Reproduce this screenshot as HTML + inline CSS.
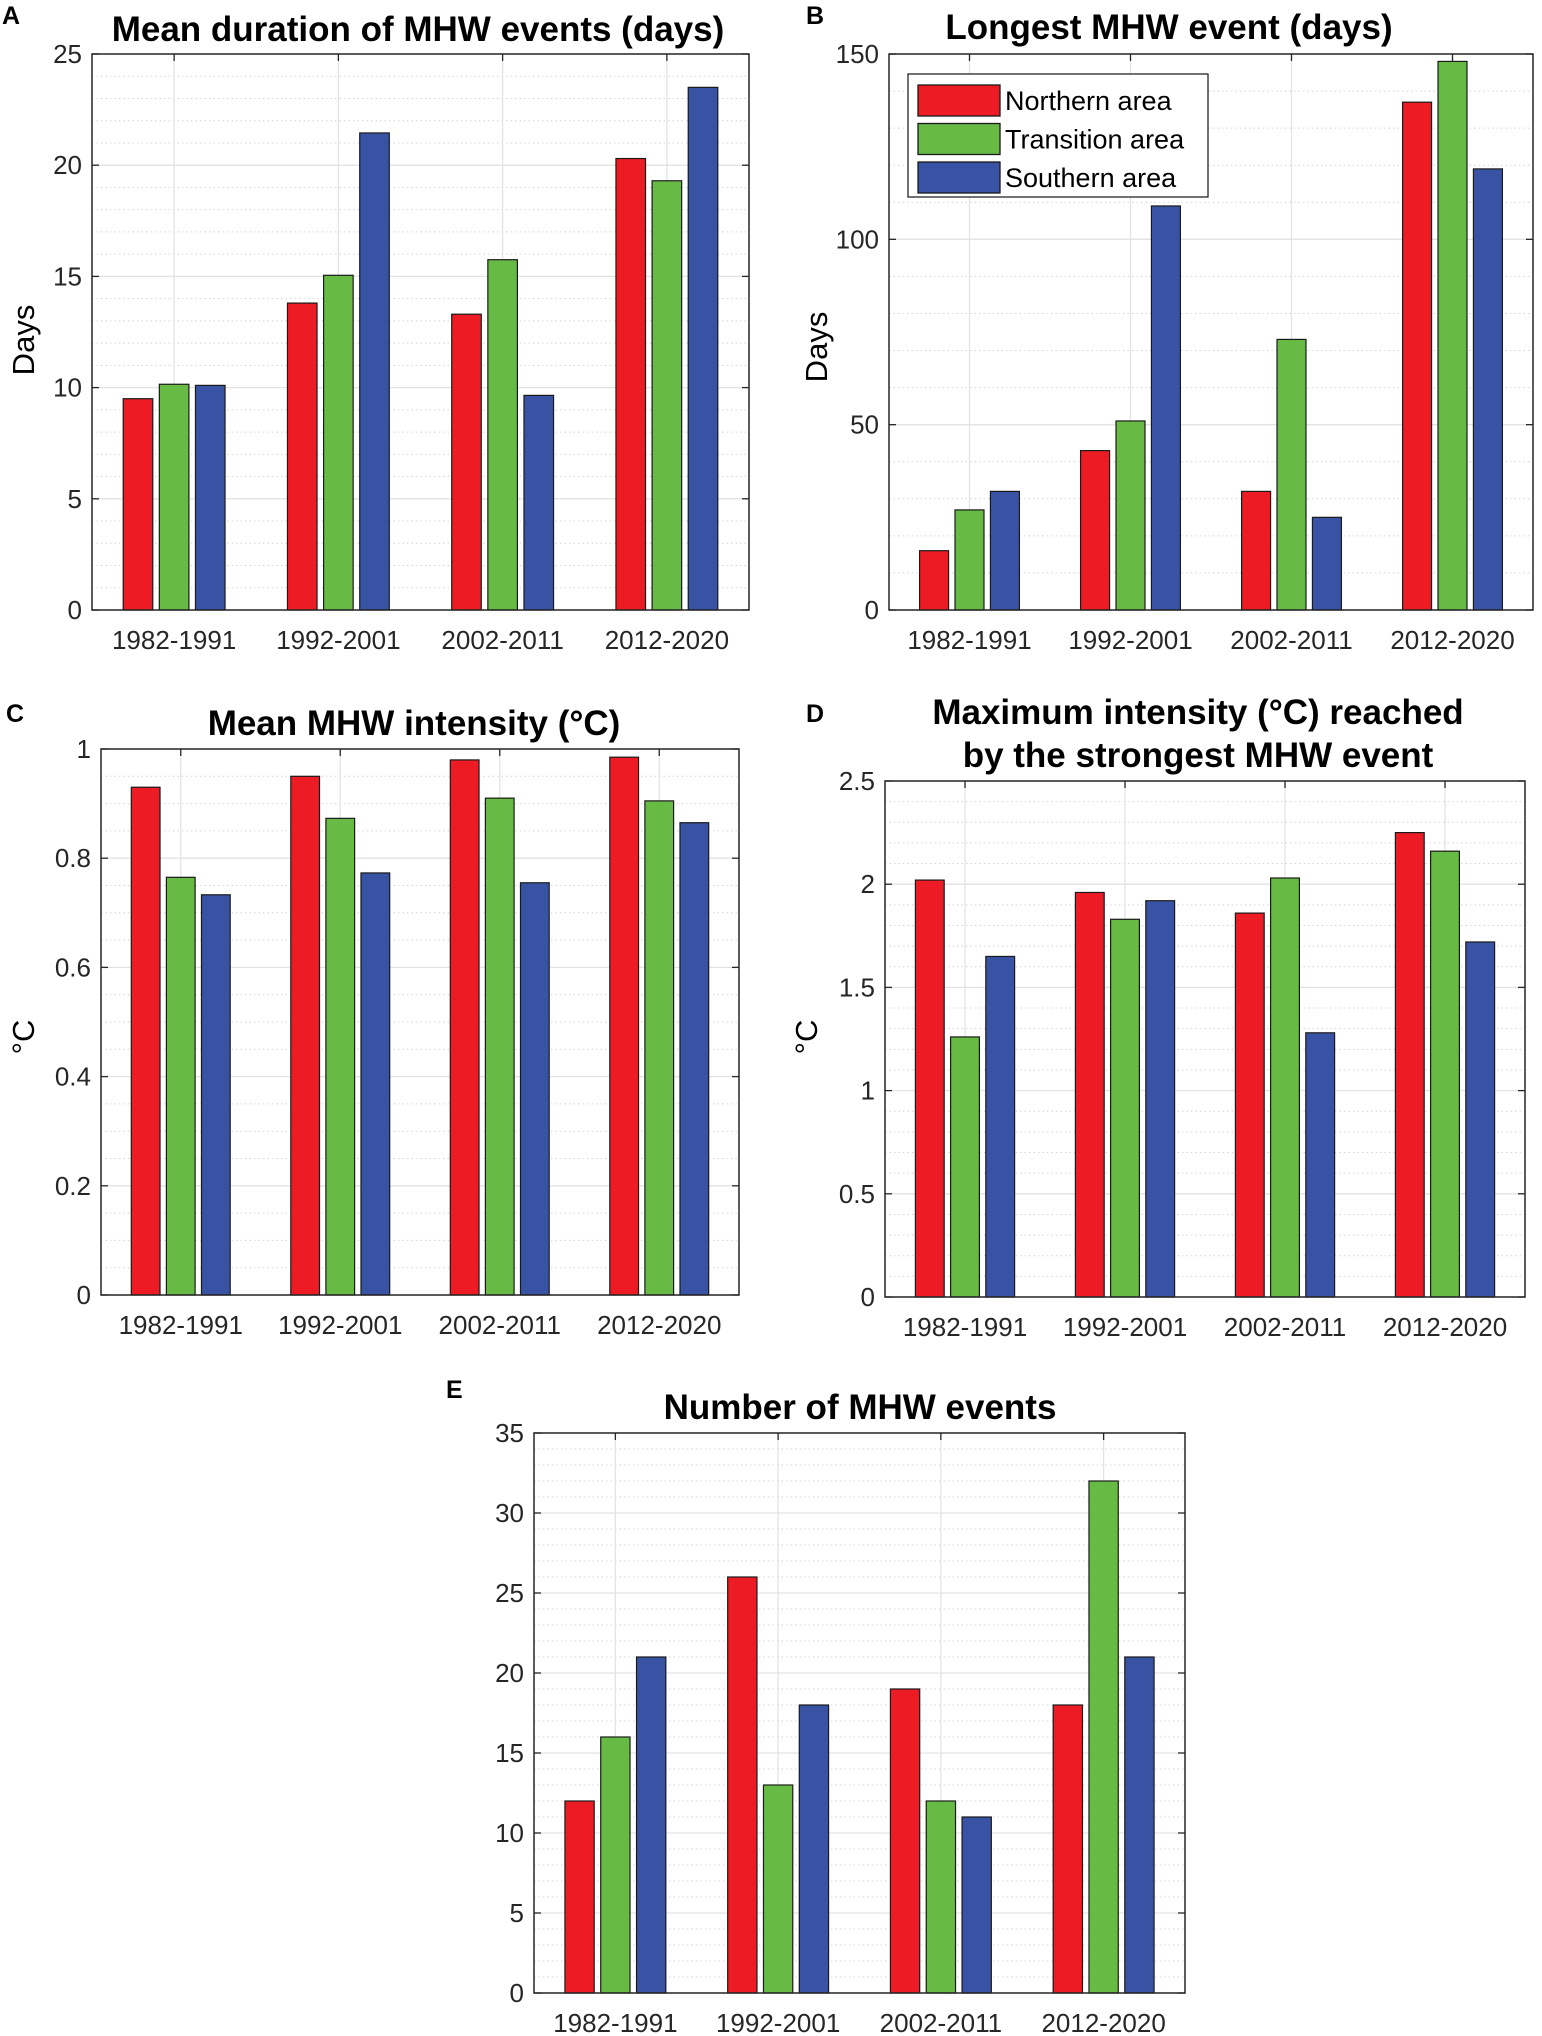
<!DOCTYPE html>
<html><head><meta charset="utf-8"><style>
html,body{margin:0;padding:0;background:#fff;}
svg{display:block;font-family:"Liberation Sans",sans-serif;}
.t{font-weight:bold;font-size:35px;fill:#000;}
.tk{font-size:26px;fill:#262626;}
.lt{font-weight:bold;font-size:25px;fill:#000;}
</style></head><body>
<svg id="fig" width="1542" height="2036" viewBox="0 0 1542 2036" xmlns="http://www.w3.org/2000/svg"></svg>
<script>
const categories = ["1982-1991","1992-2001","2002-2011","2012-2020"];
const seriesNames = ["Northern area","Transition area","Southern area"];
const colors = ["#ed1c24","#67bb45","#3953a4"];

const durNorth = [9.5,13.8,13.3,20.3];
const durTrans = [10.15,15.05,15.75,19.3];
const durSouth = [10.1,21.45,9.65,23.5];
const durTicks = [0,5,10,15,20,25];

const longNorth = [16,43,32,137];
const longTrans = [27,51,73,148];
const longSouth = [32,109,25,119];
const longTicks = [0,50,100,150];

const meanIntNorth = [0.93,0.95,0.98,0.985];
const meanIntTrans = [0.765,0.873,0.91,0.905];
const meanIntSouth = [0.733,0.773,0.755,0.865];
const meanIntTicks = [0,0.2,0.4,0.6,0.8,1];

const maxIntNorth = [2.02,1.96,1.86,2.25];
const maxIntTrans = [1.26,1.83,2.03,2.16];
const maxIntSouth = [1.65,1.92,1.28,1.72];
const maxIntTicks = [0,0.5,1,1.5,2,2.5];

const countNorth = [12,26,19,18];
const countTrans = [16,13,12,32];
const countSouth = [21,18,11,21];
const countTicks = [0,5,10,15,20,25,30,35];

const NS="http://www.w3.org/2000/svg";
const fig=document.getElementById('fig');
function mk(tag,attrs,parent,text){const e=document.createElementNS(NS,tag);for(const k in attrs)e.setAttribute(k,attrs[k]);if(text!==undefined)e.textContent=text;(parent||fig).appendChild(e);return e;}

function chart(cfg){
  const g=mk('g',{});
  
  
  const L=cfg.l,R=cfg.r,T=cfg.t,B=cfg.b;
  const ymax=cfg.ticks[cfg.ticks.length-1];
  const y=v=>B-(v/ymax)*(B-T);
  const cw=(R-L)/categories.length;
  const x=i=>L+cw*(i+0.5);
  for(let v=cfg.minor;v<ymax-1e-9;v+=cfg.minor){
    if(cfg.ticks.some(t=>Math.abs(t-v)<1e-9))continue;
    const ln=mk('line',{x1:L,x2:R,y1:y(v),y2:y(v),stroke:'#d4d4d4','stroke-width':1,'stroke-dasharray':'1.5,3'},g);
    
    
  }
  cfg.ticks.forEach(v=>{
    const ln=mk('line',{x1:L,x2:R,y1:y(v),y2:y(v),stroke:'#e3e3e3','stroke-width':1.3},g);
    
    
    mk('line',{x1:L,x2:L+7,y1:y(v),y2:y(v),stroke:'#262626','stroke-width':1.3},g);
    mk('line',{x1:R-7,x2:R,y1:y(v),y2:y(v),stroke:'#262626','stroke-width':1.3},g);
    const tx=mk('text',{x:L-10,y:y(v)+9,'text-anchor':'end',class:'tk'},g,String(v));
    
    
  });
  categories.forEach((c,i)=>{
    const ln=mk('line',{x1:x(i),x2:x(i),y1:T,y2:B,stroke:'#e3e3e3','stroke-width':1.3},g);
    
    
    mk('line',{x1:x(i),x2:x(i),y1:T,y2:T+7,stroke:'#262626','stroke-width':1.3},g);
  });
  cfg.series.forEach((s,si)=>{
    s.forEach((v,i)=>{
      const cx=x(i)+(si-1)*0.22*cw, bw=0.18*cw;
      const r=mk('rect',{x:cx-bw/2,y:y(v),width:bw,height:B-y(v),fill:colors[si],stroke:'#1a1a1a','stroke-width':1.2},g);
      
      
    });
  });
  categories.forEach((c,i)=>{
    const tx=mk('text',{x:x(i),y:B+39,'text-anchor':'middle',class:'tk'},g,c);
    
    
  });
  const ax=mk('rect',{x:L,y:T,width:R-L,height:B-T,fill:'none',stroke:'#262626','stroke-width':1.5},g);
  
  
  cfg.title.forEach((tl,k)=>{
    const tx=mk('text',{x:cfg.tx,y:cfg.ty+k*43,'text-anchor':'middle',class:'t'},g,tl);
    
    
  });
  const lt=mk('text',{x:cfg.lx,y:cfg.ly,class:'lt'},g,cfg.letter);
  
  
  if(cfg.ylabel){
    const yl=mk('text',{x:0,y:0,'text-anchor':'middle',transform:`translate(${cfg.yx},${cfg.yy}) rotate(-90)`,style:'font-size:31px;fill:#000'},g,cfg.ylabel);
    
    
  }
  return g;
}

chart({name:'chart-mean-duration',l:92,r:749,t:54,b:610,ticks:durTicks,minor:1,series:[durNorth,durTrans,durSouth],title:['Mean duration of MHW events (days)'],tx:418,ty:41,letter:'A',lx:2,ly:24,ylabel:'Days',yx:34,yy:340});
const gB=chart({name:'chart-longest-event',l:889,r:1533,t:54,b:610,ticks:longTicks,minor:10,series:[longNorth,longTrans,longSouth],title:['Longest MHW event (days)'],tx:1169,ty:39,letter:'B',lx:806,ly:24,ylabel:'Days',yx:827,yy:347});
chart({name:'chart-mean-intensity',l:101,r:739,t:749,b:1295,ticks:meanIntTicks,minor:0.05,series:[meanIntNorth,meanIntTrans,meanIntSouth],title:['Mean MHW intensity (°C)'],tx:414,ty:735,letter:'C',lx:6,ly:722,ylabel:'°C',yx:34,yy:1037});
chart({name:'chart-max-intensity',l:885,r:1525,t:781,b:1297,ticks:maxIntTicks,minor:0.1,series:[maxIntNorth,maxIntTrans,maxIntSouth],title:['Maximum intensity (°C) reached','by the strongest MHW event'],tx:1198,ty:724,letter:'D',lx:806,ly:722,ylabel:'°C',yx:817,yy:1037});
chart({name:'chart-event-count',l:534,r:1185,t:1433,b:1993,ticks:countTicks,minor:1,series:[countNorth,countTrans,countSouth],title:['Number of MHW events'],tx:860,ty:1419,letter:'E',lx:446,ly:1398});

const lg=mk('g',{},gB);


mk('rect',{x:908,y:74,width:300,height:123,fill:'#fff',stroke:'#262626','stroke-width':1.3},lg);
seriesNames.forEach((n,i)=>{
  const cy=100+i*38.5;
  const sw=mk('rect',{x:918,y:cy-15,width:82,height:31,fill:colors[i],stroke:'#1a1a1a','stroke-width':1.3},lg);
  
  
  const tx=mk('text',{x:1005,y:cy+10,style:'font-size:27px;fill:#000'},lg,n);
  
  
});
</script>
</body></html>
